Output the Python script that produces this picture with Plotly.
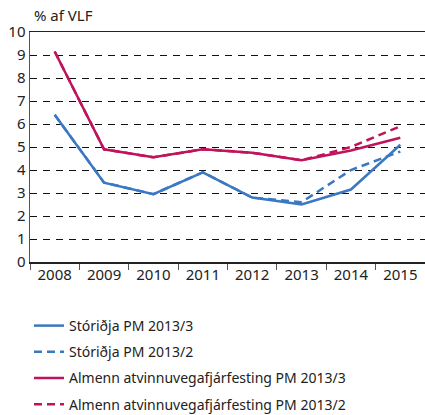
import plotly.graph_objects as go

years = ["2008", "2009", "2010", "2011", "2012", "2013", "2014", "2015"]
storidja_3 = [6.4, 3.45, 2.95, 3.9, 2.8, 2.5, 3.15, 5.1]
storidja_2 = [6.4, 3.45, 2.95, 3.9, 2.8, 2.6, 4.0, 4.8]
almenn_3 = [9.15, 4.9, 4.55, 4.9, 4.75, 4.42, 4.85, 5.4]
almenn_2 = [9.15, 4.9, 4.55, 4.9, 4.75, 4.42, 5.0, 5.9]
names = ["Stóriðja PM 2013/3", "Stóriðja PM 2013/2",
         "Almenn atvinnuvegafjárfesting PM 2013/3", "Almenn atvinnuvegafjárfesting PM 2013/2"]

BLUE = "#3a78c4"
RED = "#c0135c"
FONT = "Noto Sans"

fig = go.Figure()
series = [(storidja_3, BLUE, "solid"), (storidja_2, BLUE, "8px,5px"),
          (almenn_3, RED, "solid"), (almenn_2, RED, "8px,5px")]
# draw dashed first so solid ones lie on top
order = [1, 3, 0, 2]
for i in order:
    vals, col, dash = series[i]
    fig.add_trace(go.Scatter(
        x=years, y=vals, mode="lines", name=names[i],
        line=dict(color=col, width=2.5, dash=dash),
        legendrank=i + 1, legendgroup=str(i), hoverinfo="skip"))

fig.update_layout(
    width=425, height=415,
    margin=dict(l=30, r=0, t=32, b=153, autoexpand=False),
    paper_bgcolor="white", plot_bgcolor="white",
    font=dict(family=FONT, size=14, color="#222"),
    showlegend=True,
    legend=dict(x=29 / 425, xref="container", xanchor="left",
                y=1 - 310 / 415, yref="container", yanchor="top",
                font=dict(size=14, color="#222"), tracegroupgap=5,
                bgcolor="rgba(0,0,0,0)"),
    annotations=[dict(text="% af VLF", x=2 / 395, xref="paper", xanchor="left",
                      y=(262 - 15) / 230, yref="paper", yanchor="middle",
                      showarrow=False, font=dict(size=15, color="#222"))],
)
fig.update_xaxes(type="category", showgrid=False, showline=True, mirror=True,
                 linecolor="#222", linewidth=1.5, ticks="outside", tickson="boundaries",
                 ticklen=6, tickcolor="#555", tickfont=dict(size=15),
                 ticklabelstandoff=-2, automargin=False,
                 range=[-0.5, 7.5], fixedrange=True)
fig.update_yaxes(range=[0, 10], dtick=1, showgrid=True, gridcolor="#111", gridwidth=1,
                 griddash="7px,6px", showline=True, linecolor="#555", linewidth=1.5,
                 ticks="", tickfont=dict(size=15), zeroline=False, fixedrange=True,
                 automargin=False)

fig.write_html("out.html", config={"displayModeBar": False, "staticPlot": True},
               post_script="document.body.style.margin='0';document.body.style.overflow='hidden';")
